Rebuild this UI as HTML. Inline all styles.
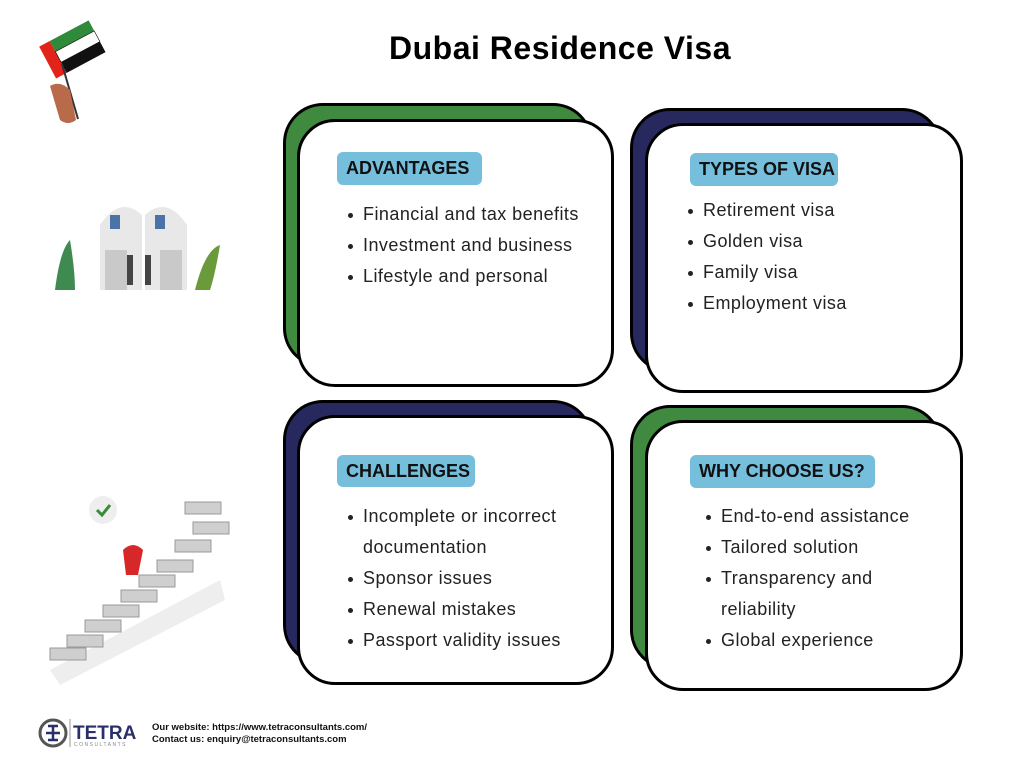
<!DOCTYPE html>
<html><head><meta charset="utf-8"><style>
body{margin:0;width:1024px;height:768px;background:#fff;position:relative;overflow:hidden;font-family:"Liberation Sans",sans-serif;}
.a{position:absolute;box-sizing:border-box;}
.back{border:3px solid #000;border-radius:40px;}
.front{border:3px solid #000;border-radius:38px;background:#fff;}
.pill{background:#75bfdd;border-radius:6px;font-weight:bold;font-size:18px;color:#111;line-height:33px;padding-left:9px;white-space:nowrap;}
ul{position:absolute;margin:0;padding:0;list-style:none;font-size:18px;letter-spacing:0.45px;line-height:31px;color:#222;white-space:nowrap;}
li{position:relative;padding-left:15px;}
li:before{content:"";position:absolute;left:0;top:14px;width:5px;height:5px;border-radius:50%;background:#222;}
</style></head><body>
<div class="a" style="left:389px;top:30px;font-size:32px;letter-spacing:0.5px;font-weight:bold;color:#000;white-space:nowrap">Dubai Residence Visa</div>

<div class="a back" style="left:283px;top:103px;width:310px;height:265px;background:#3f8a3f"></div>
<div class="a front" style="left:297px;top:119px;width:317px;height:268px"></div>
<div class="a pill" style="left:337px;top:152px;width:145px;height:33px">ADVANTAGES</div>
<ul style="left:348px;top:199px"><li>Financial and tax benefits</li><li>Investment and business</li><li>Lifestyle and personal</li></ul>

<div class="a back" style="left:630px;top:108px;width:312px;height:265px;background:#27285e"></div>
<div class="a front" style="left:645px;top:123px;width:318px;height:270px"></div>
<div class="a pill" style="left:690px;top:153px;width:148px;height:33px">TYPES OF VISA</div>
<ul style="left:688px;top:195px"><li>Retirement visa</li><li>Golden visa</li><li>Family visa</li><li>Employment visa</li></ul>

<div class="a back" style="left:283px;top:400px;width:310px;height:265px;background:#27285e"></div>
<div class="a front" style="left:297px;top:415px;width:317px;height:270px"></div>
<div class="a pill" style="left:337px;top:455px;width:138px;height:32px">CHALLENGES</div>
<ul style="left:348px;top:501px"><li>Incomplete or incorrect<br>documentation</li><li>Sponsor issues</li><li>Renewal mistakes</li><li>Passport validity issues</li></ul>

<div class="a back" style="left:630px;top:405px;width:312px;height:265px;background:#3f8a3f"></div>
<div class="a front" style="left:645px;top:420px;width:318px;height:271px"></div>
<div class="a pill" style="left:690px;top:455px;width:185px;height:33px">WHY CHOOSE US?</div>
<ul style="left:706px;top:501px"><li>End-to-end assistance</li><li>Tailored solution</li><li>Transparency and<br>reliability</li><li>Global experience</li></ul>

<!-- flag -->
<svg class="a" style="left:28px;top:14px" width="80" height="115" viewBox="0 0 80 115">
<g transform="rotate(-28 40 40)">
<rect x="18" y="20" width="12" height="36" fill="#e2231a"/>
<rect x="30" y="20" width="44" height="12" fill="#2f8b3a"/>
<rect x="30" y="32" width="44" height="12" fill="#fff" stroke="#000" stroke-width="0.6"/>
<rect x="30" y="44" width="44" height="12" fill="#111"/>
</g>
<line x1="34" y1="50" x2="50" y2="105" stroke="#333" stroke-width="2"/>
<path d="M22 72 q10-6 20 4 l6 30 q-8 6-16 0 z" fill="#b86a4a"/>
</svg>
<!-- doors illustration -->
<svg class="a" style="left:45px;top:195px" width="185" height="100">
<path d="M55 95 V30 q20-30 42-10 V95z" fill="#e8e8e8"/>
<path d="M100 95 V20 q22-20 42 10 V95z" fill="#e8e8e8"/>
<rect x="60" y="55" width="22" height="40" fill="#c9c9c9"/><rect x="115" y="55" width="22" height="40" fill="#c9c9c9"/>
<rect x="65" y="20" width="10" height="14" fill="#4a74a8"/><rect x="110" y="20" width="10" height="14" fill="#4a74a8"/>
<path d="M10 95 q5-40 15-50 q5 30 5 50z" fill="#3f8a50"/>
<path d="M150 95 q10-40 25-45 q-5 30-10 45z" fill="#6a9a3a"/>
<rect x="82" y="60" width="6" height="30" fill="#444"/><rect x="100" y="60" width="6" height="30" fill="#444"/>
</svg>
<!-- stairs -->
<svg class="a" style="left:45px;top:480px" width="185" height="210">
<path d="M5 190 L175 100 L180 120 L15 205z" fill="#eee"/>
<g fill="#cfcfcf" stroke="#999">
<rect x="5" y="168" width="36" height="12"/><rect x="22" y="155" width="36" height="12"/><rect x="40" y="140" width="36" height="12"/><rect x="58" y="125" width="36" height="12"/><rect x="76" y="110" width="36" height="12"/><rect x="94" y="95" width="36" height="12"/><rect x="112" y="80" width="36" height="12"/><rect x="130" y="60" width="36" height="12"/><rect x="148" y="42" width="36" height="12"/><rect x="140" y="22" width="36" height="12"/>
</g>
<circle cx="58" cy="30" r="14" fill="#eee"/><path d="M52 30l5 5 8-10" stroke="#3a8a3a" stroke-width="3" fill="none"/>
<path d="M78 70 q10-10 20 0 l-5 25 h-12z" fill="#d62828"/>
</svg>

<!-- footer -->
<svg class="a" style="left:38px;top:717px" width="100" height="34">
<circle cx="15" cy="16" r="13" fill="none" stroke="#555" stroke-width="3"/>
<path d="M8 16h14M15 9v14M10 9h10M10 23h10" stroke="#2a2f6a" stroke-width="2.5" fill="none"/>
<line x1="32" y1="2" x2="32" y2="30" stroke="#999"/>
<text x="35" y="22" font-family="Liberation Sans" font-weight="bold" font-size="19" fill="#2a2f6a">TETRA</text>
<text x="36" y="29" font-family="Liberation Sans" font-size="5" fill="#888" letter-spacing="1.5">CONSULTANTS</text>
</svg>
<div class="a" style="left:152px;top:722px;font-size:9.5px;font-weight:bold;line-height:12px;color:#111;white-space:nowrap">Our website: https://www.tetraconsultants.com/<br>Contact us: enquiry@tetraconsultants.com</div>
</body></html>
